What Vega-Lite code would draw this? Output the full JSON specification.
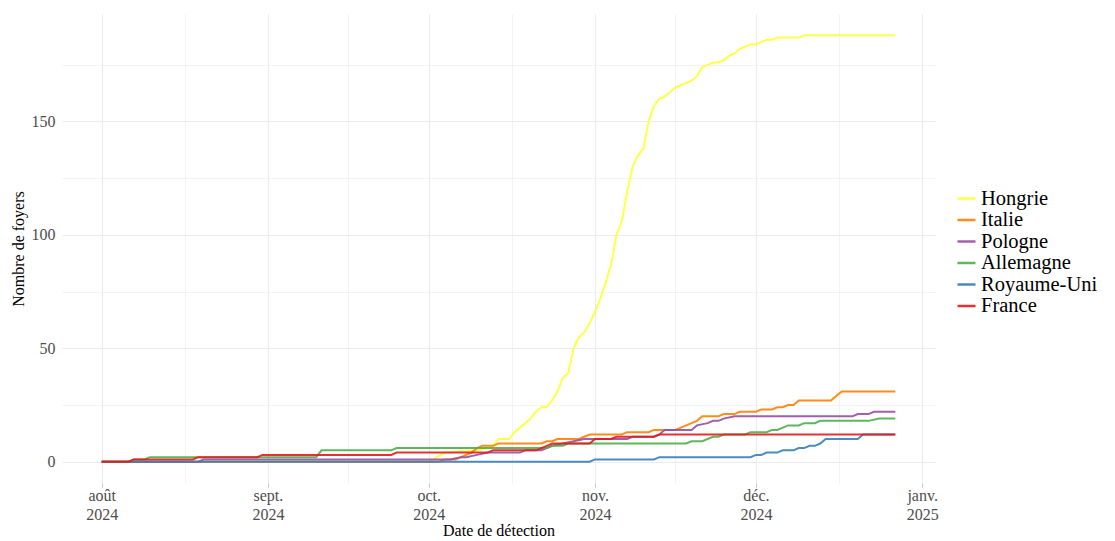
{
  "$schema": "https://vega.github.io/schema/vega-lite/v6.json",
  "width": 873,
  "height": 469,
  "autosize": {"type": "none"},
  "padding": {"left": 62, "top": 14, "right": 180, "bottom": 58},
  "background": "white",
  "config": {"view": {"stroke": null}, "font": "Liberation Serif"},
  "data": {"values": [
    {"pays":"Hongrie","date":"2024-08-01","n":0},
    {"pays":"Hongrie","date":"2024-10-01","n":0},
    {"pays":"Hongrie","date":"2024-10-04","n":4},
    {"pays":"Hongrie","date":"2024-10-10","n":5},
    {"pays":"Hongrie","date":"2024-10-12","n":6},
    {"pays":"Hongrie","date":"2024-10-13","n":7},
    {"pays":"Hongrie","date":"2024-10-14","n":10},
    {"pays":"Hongrie","date":"2024-10-16","n":10},
    {"pays":"Hongrie","date":"2024-10-17","n":13},
    {"pays":"Hongrie","date":"2024-10-18","n":15},
    {"pays":"Hongrie","date":"2024-10-19","n":17},
    {"pays":"Hongrie","date":"2024-10-20","n":19},
    {"pays":"Hongrie","date":"2024-10-21","n":22},
    {"pays":"Hongrie","date":"2024-10-22","n":24},
    {"pays":"Hongrie","date":"2024-10-23","n":24},
    {"pays":"Hongrie","date":"2024-10-24","n":27},
    {"pays":"Hongrie","date":"2024-10-25","n":31},
    {"pays":"Hongrie","date":"2024-10-26","n":37},
    {"pays":"Hongrie","date":"2024-10-27","n":39},
    {"pays":"Hongrie","date":"2024-10-28","n":50},
    {"pays":"Hongrie","date":"2024-10-29","n":55},
    {"pays":"Hongrie","date":"2024-10-30","n":57},
    {"pays":"Hongrie","date":"2024-10-31","n":61},
    {"pays":"Hongrie","date":"2024-11-01","n":66},
    {"pays":"Hongrie","date":"2024-11-02","n":72},
    {"pays":"Hongrie","date":"2024-11-03","n":79},
    {"pays":"Hongrie","date":"2024-11-04","n":87},
    {"pays":"Hongrie","date":"2024-11-05","n":100},
    {"pays":"Hongrie","date":"2024-11-06","n":106},
    {"pays":"Hongrie","date":"2024-11-07","n":119},
    {"pays":"Hongrie","date":"2024-11-08","n":130},
    {"pays":"Hongrie","date":"2024-11-09","n":135},
    {"pays":"Hongrie","date":"2024-11-10","n":138},
    {"pays":"Hongrie","date":"2024-11-11","n":150},
    {"pays":"Hongrie","date":"2024-11-12","n":157},
    {"pays":"Hongrie","date":"2024-11-13","n":160},
    {"pays":"Hongrie","date":"2024-11-14","n":161},
    {"pays":"Hongrie","date":"2024-11-15","n":163},
    {"pays":"Hongrie","date":"2024-11-16","n":165},
    {"pays":"Hongrie","date":"2024-11-17","n":166},
    {"pays":"Hongrie","date":"2024-11-18","n":167},
    {"pays":"Hongrie","date":"2024-11-19","n":168},
    {"pays":"Hongrie","date":"2024-11-20","n":170},
    {"pays":"Hongrie","date":"2024-11-21","n":174},
    {"pays":"Hongrie","date":"2024-11-22","n":175},
    {"pays":"Hongrie","date":"2024-11-23","n":176},
    {"pays":"Hongrie","date":"2024-11-24","n":176},
    {"pays":"Hongrie","date":"2024-11-25","n":177},
    {"pays":"Hongrie","date":"2024-11-26","n":179},
    {"pays":"Hongrie","date":"2024-11-27","n":180},
    {"pays":"Hongrie","date":"2024-11-28","n":182},
    {"pays":"Hongrie","date":"2024-11-29","n":183},
    {"pays":"Hongrie","date":"2024-11-30","n":184},
    {"pays":"Hongrie","date":"2024-12-01","n":184},
    {"pays":"Hongrie","date":"2024-12-02","n":185},
    {"pays":"Hongrie","date":"2024-12-03","n":186},
    {"pays":"Hongrie","date":"2024-12-04","n":186},
    {"pays":"Hongrie","date":"2024-12-05","n":187},
    {"pays":"Hongrie","date":"2024-12-09","n":187},
    {"pays":"Hongrie","date":"2024-12-10","n":188},
    {"pays":"Hongrie","date":"2024-12-27","n":188},

    {"pays":"Italie","date":"2024-08-01","n":0},
    {"pays":"Italie","date":"2024-10-03","n":0},
    {"pays":"Italie","date":"2024-10-04","n":1},
    {"pays":"Italie","date":"2024-10-06","n":1},
    {"pays":"Italie","date":"2024-10-07","n":2},
    {"pays":"Italie","date":"2024-10-08","n":3},
    {"pays":"Italie","date":"2024-10-09","n":4},
    {"pays":"Italie","date":"2024-10-10","n":6},
    {"pays":"Italie","date":"2024-10-11","n":7},
    {"pays":"Italie","date":"2024-10-13","n":7},
    {"pays":"Italie","date":"2024-10-14","n":8},
    {"pays":"Italie","date":"2024-10-22","n":8},
    {"pays":"Italie","date":"2024-10-23","n":9},
    {"pays":"Italie","date":"2024-10-24","n":9},
    {"pays":"Italie","date":"2024-10-25","n":10},
    {"pays":"Italie","date":"2024-10-29","n":10},
    {"pays":"Italie","date":"2024-10-30","n":11},
    {"pays":"Italie","date":"2024-10-31","n":12},
    {"pays":"Italie","date":"2024-11-06","n":12},
    {"pays":"Italie","date":"2024-11-07","n":13},
    {"pays":"Italie","date":"2024-11-11","n":13},
    {"pays":"Italie","date":"2024-11-12","n":14},
    {"pays":"Italie","date":"2024-11-16","n":14},
    {"pays":"Italie","date":"2024-11-17","n":15},
    {"pays":"Italie","date":"2024-11-18","n":16},
    {"pays":"Italie","date":"2024-11-19","n":17},
    {"pays":"Italie","date":"2024-11-20","n":18},
    {"pays":"Italie","date":"2024-11-21","n":20},
    {"pays":"Italie","date":"2024-11-24","n":20},
    {"pays":"Italie","date":"2024-11-25","n":21},
    {"pays":"Italie","date":"2024-11-27","n":21},
    {"pays":"Italie","date":"2024-11-28","n":22},
    {"pays":"Italie","date":"2024-12-01","n":22},
    {"pays":"Italie","date":"2024-12-02","n":23},
    {"pays":"Italie","date":"2024-12-04","n":23},
    {"pays":"Italie","date":"2024-12-05","n":24},
    {"pays":"Italie","date":"2024-12-06","n":24},
    {"pays":"Italie","date":"2024-12-07","n":25},
    {"pays":"Italie","date":"2024-12-08","n":25},
    {"pays":"Italie","date":"2024-12-09","n":27},
    {"pays":"Italie","date":"2024-12-15","n":27},
    {"pays":"Italie","date":"2024-12-17","n":31},
    {"pays":"Italie","date":"2024-12-27","n":31},

    {"pays":"Pologne","date":"2024-08-01","n":0},
    {"pays":"Pologne","date":"2024-08-19","n":0},
    {"pays":"Pologne","date":"2024-08-20","n":1},
    {"pays":"Pologne","date":"2024-10-05","n":1},
    {"pays":"Pologne","date":"2024-10-07","n":2},
    {"pays":"Pologne","date":"2024-10-08","n":2},
    {"pays":"Pologne","date":"2024-10-10","n":3},
    {"pays":"Pologne","date":"2024-10-12","n":4},
    {"pays":"Pologne","date":"2024-10-18","n":4},
    {"pays":"Pologne","date":"2024-10-19","n":5},
    {"pays":"Pologne","date":"2024-10-22","n":5},
    {"pays":"Pologne","date":"2024-10-24","n":7},
    {"pays":"Pologne","date":"2024-10-26","n":8},
    {"pays":"Pologne","date":"2024-10-28","n":9},
    {"pays":"Pologne","date":"2024-10-30","n":10},
    {"pays":"Pologne","date":"2024-11-07","n":10},
    {"pays":"Pologne","date":"2024-11-08","n":11},
    {"pays":"Pologne","date":"2024-11-12","n":11},
    {"pays":"Pologne","date":"2024-11-13","n":12},
    {"pays":"Pologne","date":"2024-11-14","n":14},
    {"pays":"Pologne","date":"2024-11-19","n":14},
    {"pays":"Pologne","date":"2024-11-20","n":16},
    {"pays":"Pologne","date":"2024-11-22","n":17},
    {"pays":"Pologne","date":"2024-11-23","n":18},
    {"pays":"Pologne","date":"2024-11-24","n":18},
    {"pays":"Pologne","date":"2024-11-25","n":19},
    {"pays":"Pologne","date":"2024-11-27","n":20},
    {"pays":"Pologne","date":"2024-12-19","n":20},
    {"pays":"Pologne","date":"2024-12-20","n":21},
    {"pays":"Pologne","date":"2024-12-22","n":21},
    {"pays":"Pologne","date":"2024-12-23","n":22},
    {"pays":"Pologne","date":"2024-12-27","n":22},

    {"pays":"Allemagne","date":"2024-08-01","n":0},
    {"pays":"Allemagne","date":"2024-08-06","n":0},
    {"pays":"Allemagne","date":"2024-08-07","n":1},
    {"pays":"Allemagne","date":"2024-08-09","n":1},
    {"pays":"Allemagne","date":"2024-08-10","n":2},
    {"pays":"Allemagne","date":"2024-09-10","n":2},
    {"pays":"Allemagne","date":"2024-09-11","n":5},
    {"pays":"Allemagne","date":"2024-09-24","n":5},
    {"pays":"Allemagne","date":"2024-09-25","n":6},
    {"pays":"Allemagne","date":"2024-10-23","n":6},
    {"pays":"Allemagne","date":"2024-10-24","n":7},
    {"pays":"Allemagne","date":"2024-10-26","n":7},
    {"pays":"Allemagne","date":"2024-10-27","n":8},
    {"pays":"Allemagne","date":"2024-11-18","n":8},
    {"pays":"Allemagne","date":"2024-11-19","n":9},
    {"pays":"Allemagne","date":"2024-11-21","n":9},
    {"pays":"Allemagne","date":"2024-11-23","n":11},
    {"pays":"Allemagne","date":"2024-11-24","n":11},
    {"pays":"Allemagne","date":"2024-11-25","n":12},
    {"pays":"Allemagne","date":"2024-11-29","n":12},
    {"pays":"Allemagne","date":"2024-11-30","n":13},
    {"pays":"Allemagne","date":"2024-12-03","n":13},
    {"pays":"Allemagne","date":"2024-12-04","n":14},
    {"pays":"Allemagne","date":"2024-12-05","n":14},
    {"pays":"Allemagne","date":"2024-12-07","n":16},
    {"pays":"Allemagne","date":"2024-12-09","n":16},
    {"pays":"Allemagne","date":"2024-12-10","n":17},
    {"pays":"Allemagne","date":"2024-12-12","n":17},
    {"pays":"Allemagne","date":"2024-12-13","n":18},
    {"pays":"Allemagne","date":"2024-12-22","n":18},
    {"pays":"Allemagne","date":"2024-12-24","n":19},
    {"pays":"Allemagne","date":"2024-12-27","n":19},

    {"pays":"Royaume-Uni","date":"2024-08-01","n":0},
    {"pays":"Royaume-Uni","date":"2024-10-31","n":0},
    {"pays":"Royaume-Uni","date":"2024-11-01","n":1},
    {"pays":"Royaume-Uni","date":"2024-11-12","n":1},
    {"pays":"Royaume-Uni","date":"2024-11-13","n":2},
    {"pays":"Royaume-Uni","date":"2024-11-30","n":2},
    {"pays":"Royaume-Uni","date":"2024-12-01","n":3},
    {"pays":"Royaume-Uni","date":"2024-12-02","n":3},
    {"pays":"Royaume-Uni","date":"2024-12-03","n":4},
    {"pays":"Royaume-Uni","date":"2024-12-05","n":4},
    {"pays":"Royaume-Uni","date":"2024-12-06","n":5},
    {"pays":"Royaume-Uni","date":"2024-12-08","n":5},
    {"pays":"Royaume-Uni","date":"2024-12-09","n":6},
    {"pays":"Royaume-Uni","date":"2024-12-10","n":6},
    {"pays":"Royaume-Uni","date":"2024-12-11","n":7},
    {"pays":"Royaume-Uni","date":"2024-12-12","n":7},
    {"pays":"Royaume-Uni","date":"2024-12-13","n":8},
    {"pays":"Royaume-Uni","date":"2024-12-14","n":10},
    {"pays":"Royaume-Uni","date":"2024-12-20","n":10},
    {"pays":"Royaume-Uni","date":"2024-12-21","n":12},
    {"pays":"Royaume-Uni","date":"2024-12-27","n":12},

    {"pays":"France","date":"2024-08-01","n":0},
    {"pays":"France","date":"2024-08-06","n":0},
    {"pays":"France","date":"2024-08-07","n":1},
    {"pays":"France","date":"2024-08-18","n":1},
    {"pays":"France","date":"2024-08-19","n":2},
    {"pays":"France","date":"2024-08-30","n":2},
    {"pays":"France","date":"2024-08-31","n":3},
    {"pays":"France","date":"2024-09-24","n":3},
    {"pays":"France","date":"2024-09-25","n":4},
    {"pays":"France","date":"2024-10-12","n":4},
    {"pays":"France","date":"2024-10-13","n":5},
    {"pays":"France","date":"2024-10-21","n":5},
    {"pays":"France","date":"2024-10-22","n":6},
    {"pays":"France","date":"2024-10-23","n":7},
    {"pays":"France","date":"2024-10-24","n":8},
    {"pays":"France","date":"2024-10-31","n":8},
    {"pays":"France","date":"2024-11-01","n":10},
    {"pays":"France","date":"2024-11-04","n":10},
    {"pays":"France","date":"2024-11-05","n":11},
    {"pays":"France","date":"2024-11-12","n":11},
    {"pays":"France","date":"2024-11-13","n":12},
    {"pays":"France","date":"2024-12-27","n":12}
  ]},
  "mark": {"type": "line", "strokeWidth": 2, "strokeOpacity": 0.9},
  "encoding": {
    "x": {
      "field": "date",
      "type": "temporal",
      "scale": {
        "type": "utc",
        "nice": false,
        "domain": [
          {"year": 2024, "month": 7, "date": 24, "hours": 14, "minutes": 24, "utc": true},
          {"year": 2025, "month": 1, "date": 3, "hours": 9, "minutes": 36, "utc": true}
        ]
      },
      "axis": {
        "title": "Date de détection",
        "values": [
          {"year": 2024, "month": 8, "date": 1, "utc": true},
          {"year": 2024, "month": 8, "date": 16, "hours": 12, "utc": true},
          {"year": 2024, "month": 9, "date": 1, "utc": true},
          {"year": 2024, "month": 9, "date": 16, "utc": true},
          {"year": 2024, "month": 10, "date": 1, "utc": true},
          {"year": 2024, "month": 10, "date": 16, "hours": 12, "utc": true},
          {"year": 2024, "month": 11, "date": 1, "utc": true},
          {"year": 2024, "month": 11, "date": 16, "utc": true},
          {"year": 2024, "month": 12, "date": 1, "utc": true},
          {"year": 2024, "month": 12, "date": 16, "hours": 12, "utc": true},
          {"year": 2025, "month": 1, "date": 1, "utc": true}
        ],
        "labelExpr": "utcdate(datum.value) == 1 ? [['janv.','févr.','mars','avr.','mai','juin','juil.','août','sept.','oct.','nov.','déc.'][utcmonth(datum.value)], '' + utcyear(datum.value)] : ''",
        "gridColor": "#EBEBEB",
        "gridWidth": {"condition": {"test": "utcdate(datum.value) == 1", "value": 1.1}, "value": 0.6},
        "tickColor": {"condition": {"test": "utcdate(datum.value) == 1", "value": "#C8C8C8"}, "value": "transparent"},
        "tickSize": 4,
        "domain": false,
        "labelAngle": 0,
        "labelOverlap": false,
        "labelFlush": false,
        "labelFont": "Liberation Serif",
        "labelFontSize": 16,
        "labelColor": "#4D4D4D",
        "labelLineHeight": 19,
        "labelPadding": 0,
        "titleFont": "Liberation Serif",
        "titleFontSize": 16,
        "titleFontWeight": "normal",
        "titleColor": "#000000",
        "titlePadding": 0
      }
    },
    "y": {
      "field": "n",
      "type": "quantitative",
      "scale": {"domain": [-9.4, 197.4], "nice": false, "zero": false},
      "axis": {
        "title": "Nombre de foyers",
        "values": [0, 25, 50, 75, 100, 125, 150, 175],
        "labelExpr": "datum.value % 50 == 0 ? datum.label : ''",
        "gridColor": "#EBEBEB",
        "gridWidth": {"condition": {"test": "datum.value % 50 == 0", "value": 1.1}, "value": 0.6},
        "ticks": false,
        "domain": false,
        "labelFont": "Liberation Serif",
        "labelFontSize": 16,
        "labelColor": "#4D4D4D",
        "labelPadding": 7,
        "titleFont": "Liberation Serif",
        "titleFontSize": 16,
        "titleFontWeight": "normal",
        "titleColor": "#000000",
        "titlePadding": 5
      }
    },
    "color": {
      "field": "pays",
      "type": "nominal",
      "scale": {
        "domain": ["Hongrie", "Italie", "Pologne", "Allemagne", "Royaume-Uni", "France"],
        "range": ["#FFFF33", "#FF7F00", "#984EA3", "#4DAF4A", "#377EB8", "#E41A1C"]
      },
      "legend": {
        "title": null,
        "orient": "none",
        "legendX": 894,
        "legendY": 174,
        "symbolType": "stroke",
        "symbolSize": 324,
        "symbolStrokeWidth": 2.5,
        "symbolOpacity": 0.9,
        "labelFont": "Liberation Serif",
        "labelFontSize": 20.5,
        "labelColor": "#000000",
        "labelOffset": 4,
        "labelLimit": 300,
        "rowPadding": 0.5
      }
    }
  }
}
